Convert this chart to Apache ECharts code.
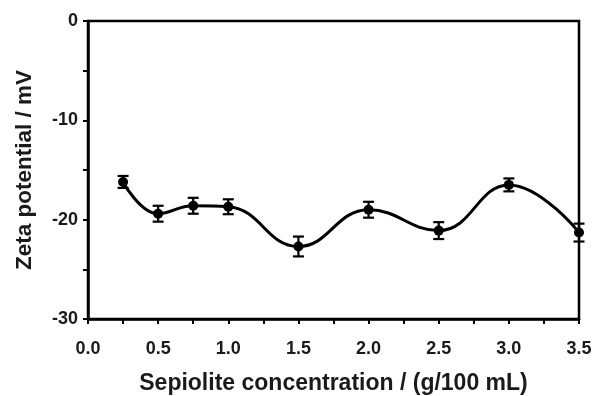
<!DOCTYPE html>
<html>
<head>
<meta charset="utf-8">
<script src="https://cdn.jsdelivr.net/npm/echarts@6/dist/echarts.min.js"></script>
<style>
  html, body { margin: 0; padding: 0; background: #fff; }
  #chart { width: 593px; height: 396px; }
</style>
</head>
<body>
<div id="chart"></div>
<script>
// Sepiolite concentration (g/100 mL)
const concentration = [0.25, 0.5, 0.75, 1.0, 1.5, 2.0, 2.5, 3.0, 3.5];
// Zeta potential (mV)
const zeta = [-16.2, -19.4, -18.6, -18.7, -22.7, -19.0, -21.1, -16.5, -21.3];
// Half-width of the error bars (mV)
const zetaErr = [0.6, 0.8, 0.8, 0.75, 1.0, 0.8, 0.85, 0.65, 0.9];

const lineData = concentration.map((c, i) => [c, zeta[i]]);
const errData = concentration.map((c, i) => [c, zeta[i] - zetaErr[i], zeta[i] + zetaErr[i]]);

const chart = echarts.init(document.getElementById('chart'), null, { renderer: 'canvas' });

const axisFont = { fontFamily: 'Liberation Sans, Arial, sans-serif', fontWeight: 'bold', color: '#1a1a1a' };

chart.setOption({
  animation: false,
  grid: {
    left: 88, right: 14, top: 21, bottom: 77,
    containLabel: false, outerBoundsMode: 'none',
    show: true, borderColor: '#000', borderWidth: 2.5, backgroundColor: 'transparent'
  },
  xAxis: {
    type: 'value', min: 0, max: 3.5, interval: 0.25,
    name: 'Sepiolite concentration / (g/100 mL)',
    nameLocation: 'middle', nameGap: 53,
    nameTextStyle: Object.assign({ fontSize: 23 }, axisFont),
    axisLine: { onZero: false, lineStyle: { color: '#000', width: 2.5 } },
    axisTick: { lineStyle: { color: '#000', width: 2 }, length: 5 },
    splitLine: { show: false },
    axisLabel: Object.assign({
      fontSize: 18, margin: 21,
      formatter: v => (Math.abs(v * 2 - Math.round(v * 2)) < 1e-6 ? v.toFixed(1) : '')
    }, axisFont)
  },
  yAxis: {
    type: 'value', min: -30, max: 0, interval: 5,
    name: 'Zeta potential / mV',
    nameLocation: 'middle', nameGap: 52,
    nameTextStyle: Object.assign({ fontSize: 22.5 }, axisFont),
    axisLine: { onZero: false, lineStyle: { color: '#000', width: 2.5 } },
    axisTick: { lineStyle: { color: '#000', width: 2 }, length: 5 },
    splitLine: { show: false },
    axisLabel: Object.assign({
      fontSize: 18, margin: 10,
      formatter: v => (v % 10 === 0 ? String(v) : '')
    }, axisFont)
  },
  series: [
    {
      type: 'line',
      data: lineData,
      smooth: 0.45,
      symbol: 'circle',
      symbolSize: 10,
      itemStyle: { color: '#000' },
      lineStyle: { color: '#000', width: 3 },
      z: 3
    },
    {
      type: 'custom',
      data: errData,
      encode: { x: 0, y: [1, 2] },
      renderItem: (params, api) => {
        const x = api.value(0);
        const lo = api.coord([x, api.value(1)]);
        const hi = api.coord([x, api.value(2)]);
        const cap = 5.5;
        const style = { stroke: '#000', lineWidth: 2.2 };
        return {
          type: 'group',
          children: [
            { type: 'line', shape: { x1: lo[0], y1: lo[1], x2: hi[0], y2: hi[1] }, style },
            { type: 'line', shape: { x1: lo[0] - cap, y1: lo[1], x2: lo[0] + cap, y2: lo[1] }, style },
            { type: 'line', shape: { x1: hi[0] - cap, y1: hi[1], x2: hi[0] + cap, y2: hi[1] }, style }
          ]
        };
      },
      z: 4
    }
  ]
});
</script>
</body>
</html>
